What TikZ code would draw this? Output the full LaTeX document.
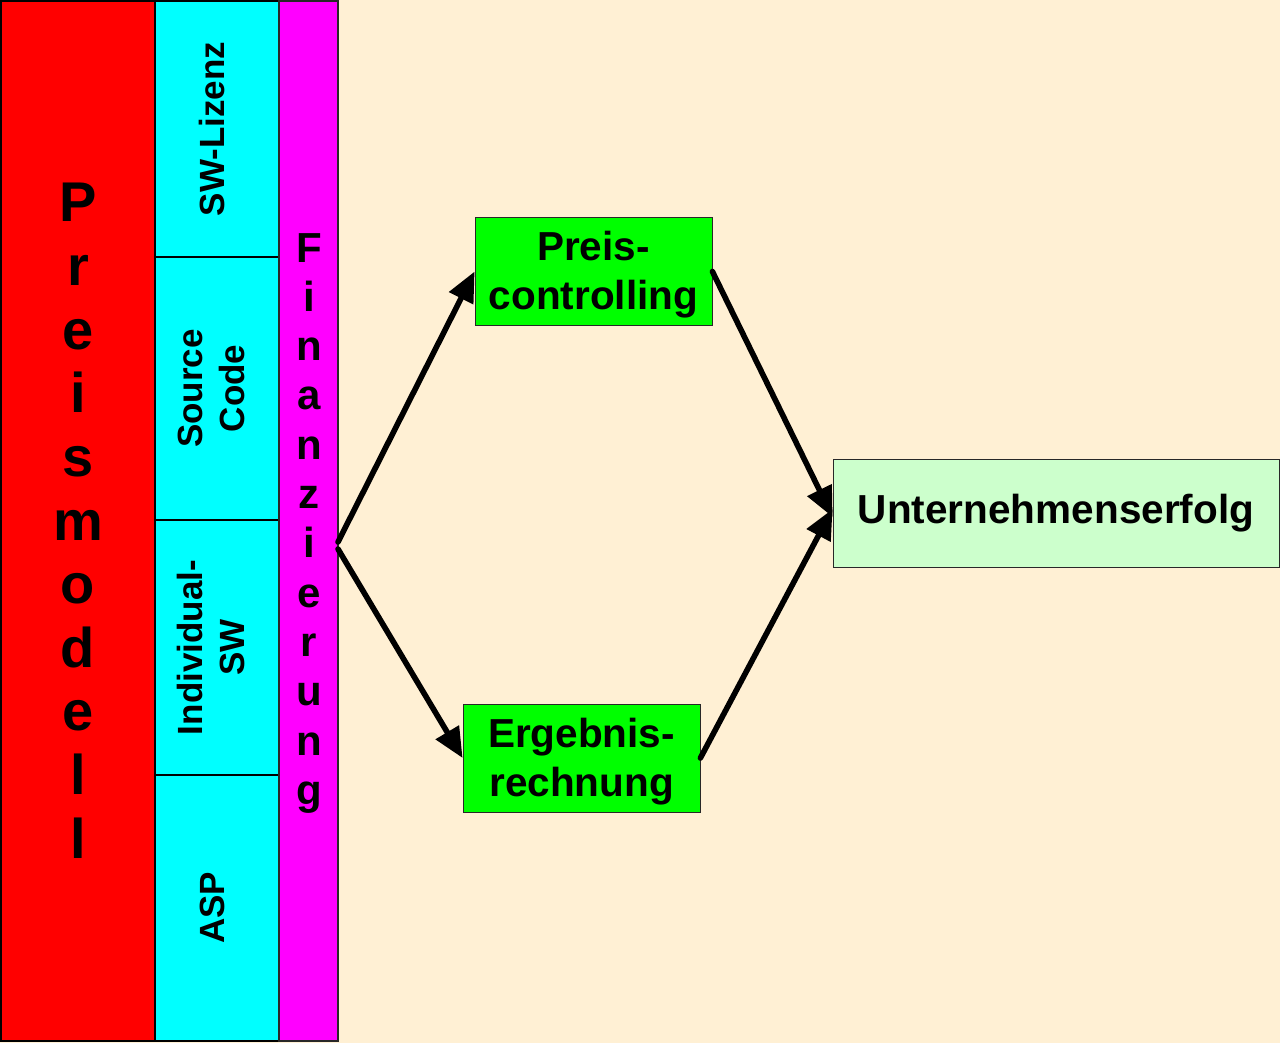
\documentclass[tikz,border=0pt]{standalone}
\usepackage{fontspec}
\setmainfont{Liberation Sans}
\usetikzlibrary{arrows.meta}
\definecolor{cream}{RGB}{255,240,212}
\definecolor{pmred}{RGB}{255,0,0}
\definecolor{pmcyan}{RGB}{0,255,255}
\definecolor{pmmagenta}{RGB}{255,0,255}
\definecolor{pmgreen}{RGB}{0,255,0}
\definecolor{pmlight}{RGB}{204,255,204}
\definecolor{edge}{RGB}{40,40,40}
\tikzset{
  column/.style={draw=black, line width=1.2pt, inner sep=0pt, outer sep=0pt},
  stackA/.style={font=\fontsize{56}{60}\selectfont\bfseries, anchor=base, inner sep=0pt},
  stackB/.style={font=\fontsize{42}{46}\selectfont\bfseries, anchor=base, inner sep=0pt},
  sidetext/.style={rotate=90, align=center, font=\fontsize{35}{42}\selectfont\bfseries},
  greenbox/.style={draw=edge, line width=0.8pt, fill=pmgreen, inner sep=0pt,
    minimum width=237, minimum height=108},
  boxtext/.style={align=center, font=\fontsize{40.5}{49}\selectfont\bfseries},
  goalbox/.style={draw=edge, line width=0.8pt, fill=pmlight, inner sep=0pt,
    minimum width=446, minimum height=108,
    font=\fontsize{40.5}{47}\selectfont\bfseries},
  flow/.style={line width=5.6pt, line cap=round, -{Triangle[length=30pt,width=26pt]}}
}
\begin{document}
\begin{tikzpicture}[x=1pt,y=-1pt]
  \fill[cream] (0,0) rectangle (1280,1043);
  \useasboundingbox (0,0) rectangle (1280,1043);

  % left columns
  \node[column, fill=pmred, minimum width=154, minimum height=1040] (pricing) at (78,521) {};
  \node[column, fill=pmcyan, minimum width=124, minimum height=256] (lic) at (217,129) {};
  \node[column, fill=pmcyan, minimum width=124, minimum height=263] (src) at (217,388.5) {};
  \node[column, fill=pmcyan, minimum width=124, minimum height=255] (ind) at (217,647.5) {};
  \node[column, fill=pmcyan, minimum width=124, minimum height=266] (asp) at (217,908) {};
  \node[column, draw=edge, fill=pmmagenta, minimum width=59, minimum height=1040] (fin) at (308.5,521) {};

  % vertical words, one letter per line
  \foreach \c [count=\i] in {P,r,e,i,s,m,o,d,e,l,l}
    \node[stackA] (pm\i) at (78,{222+(\i-1)*63.6}) {\c};
  \foreach \c [count=\i] in {F,i,n,a,n,z,i,e,r,u,n,g}
    \node[stackB] (fz\i) at (309,{262+(\i-1)*49.3}) {\c};

  % rotated labels in the cyan cells
  \node[sidetext] (licT) at ([xshift=-5pt]lic.center) {SW-Lizenz};
  \node[sidetext] (srcT) at ([xshift=-6pt]src.center) {Source\\Code};
  \node[sidetext] (indT) at ([xshift=-6pt]ind.center) {Individual-\\SW};
  \node[sidetext] (aspT) at ([xshift=-5pt]asp.center) {ASP};

  % right-hand boxes
  \node[greenbox] (ctrl) at (593.5,271.5) {};
  \node[boxtext] (ctrlT) at ([yshift=-3.5pt]ctrl.center) {Preis-\\controlling};
  \node[greenbox] (res) at (581.5,758) {};
  \node[boxtext] (resT) at ([yshift=-4pt]res.center) {Ergebnis-\\rechnung};
  \node[goalbox] (goal) at (1056,513) {Unternehmenserfolg};

  % connectors
  \coordinate (s1) at (338,542);
  \coordinate (s2) at (338,549);
  \draw[flow] (s1) -- (ctrl.west);
  \draw[flow] (s2) -- (res.west);
  \draw[flow] (ctrl.east) -- ([yshift=-4pt]goal.west);
  \draw[flow] (res.east) -- ([yshift=4pt]goal.west);
\end{tikzpicture}
\end{document}
